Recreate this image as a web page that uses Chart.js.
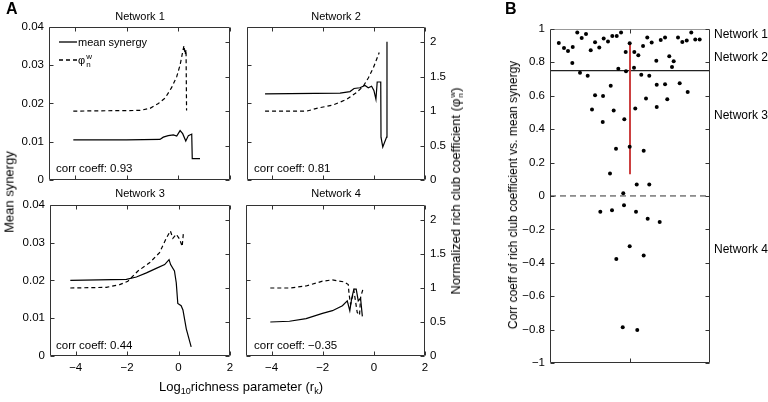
<!DOCTYPE html>
<html>
<head>
<meta charset="utf-8">
<script src="https://cdn.jsdelivr.net/npm/chart.js@4.4.0/dist/chart.umd.min.js"></script>
<style>
body { margin: 0; background: #fff; width: 768px; height: 402px; position: relative; overflow: hidden;
       font-family: "Liberation Sans", Arial, sans-serif; color: #000; }
canvas { position: absolute; }
.t { position: absolute; white-space: nowrap; line-height: 1; font-size: 11px; }
.c { transform: translate(-50%, -50%); }
.r { transform: translate(-50%, -50%) rotate(-90deg); }
.lbl { font-size: 13px; }
.big { font-size: 16px; font-weight: bold; }
.sw { display: inline-block; vertical-align: middle; font-size: 8px; line-height: 8px; margin-left: 1px; }
</style>
</head>
<body>
<canvas id="c1"></canvas>
<canvas id="c2"></canvas>
<canvas id="c3"></canvas>
<canvas id="c4"></canvas>
<canvas id="cb"></canvas>

<div class="t big" style="left:6px;top:1px">A</div>
<div class="t big" style="left:505px;top:1px">B</div>

<div class="t c" style="left:140px;top:16px">Network 1</div>
<div class="t c" style="left:336px;top:16px">Network 2</div>
<div class="t c" style="left:140px;top:193px">Network 3</div>
<div class="t c" style="left:336px;top:193px">Network 4</div>

<div class="t" style="left:56px;top:163px;font-size:11.5px">corr coeff: 0.93</div>
<div class="t" style="left:254px;top:163px;font-size:11.5px">corr coeff: 0.81</div>
<div class="t" style="left:56px;top:340px;font-size:11.5px">corr coeff: 0.44</div>
<div class="t" style="left:254px;top:340px;font-size:11.5px">corr coeff: &minus;0.35</div>

<svg style="position:absolute;left:58px;top:36px" width="20" height="30">
  <line x1="1" y1="6" x2="19" y2="6" stroke="#000" stroke-width="1.3"/>
  <line x1="1" y1="24" x2="19" y2="24" stroke="#000" stroke-width="1.3" stroke-dasharray="4,3"/>
</svg>
<div class="t" style="left:78px;top:37px">mean synergy</div>
<div class="t" style="left:78px;top:53px">&phi;<span class="sw">w<br>n</span></div>

<div class="t r lbl" style="left:9px;top:192px">Mean synergy</div>
<div class="t r lbl" style="left:457px;top:191px">Normalized rich club coefficient (&phi;<span class="sw">w<br>n</span>)</div>
<div class="t c lbl" style="left:241px;top:388px">Log<sub style="font-size:9px">10</sub>richness parameter (r<sub style="font-size:9px">k</sub>)</div>

<div class="t r" style="left:513px;top:195px;font-size:12px">Corr coeff of rich club coefficient vs. mean synergy</div>
<div class="t" style="left:714px;top:28px;font-size:12px">Network 1</div>
<div class="t" style="left:714px;top:51px;font-size:12px">Network 2</div>
<div class="t" style="left:714px;top:109px;font-size:12px">Network 3</div>
<div class="t" style="left:714px;top:243px;font-size:12px">Network 4</div>

<script>
// ---- panel A data (x = log10 richness parameter) ----
let xTicksA = [-4, -2, 0, 2];
let synTicks = [0, 0.01, 0.02, 0.03, 0.04];
let phiTicks = [0, 0.5, 1, 1.5, 2];
let phiMax = 0.04 / 0.018;

let net1SynX = [-4.06, -2.0, -0.71, -0.58, -0.39, -0.19, -0.06, 0.07, 0.17, 0.29, 0.39, 0.52, 0.54, 0.84];
let net1Syn  = [0.0105, 0.0105, 0.0106, 0.0112, 0.0116, 0.0118, 0.0115, 0.0129, 0.0121, 0.0102, 0.0116, 0.0120, 0.0056, 0.0056];
let net1PhiX = [-4.06, -1.48, -1.09, -0.77, -0.51, -0.26, -0.06, 0.07, 0.17, 0.22, 0.27, 0.30, 0.32];
let net1Phi  = [1.0, 1.01, 1.04, 1.11, 1.19, 1.34, 1.5, 1.67, 1.86, 1.95, 1.82, 1.89, 1.01];

let net2SynX = [-4.29, -1.34, -0.95, -0.79, -0.56, -0.36, -0.23, -0.10, -0.01, 0.07, 0.12, 0.26, 0.27, 0.34, 0.49, 0.505];
let net2Syn  = [0.0225, 0.0227, 0.0231, 0.0239, 0.0241, 0.0247, 0.0241, 0.0245, 0.0234, 0.0211, 0.0256, 0.0256, 0.0112, 0.0086, 0.0112, 0.0361];
let net2PhiX = [-4.29, -2.65, -2.26, -1.61, -1.08, -0.69, -0.43, -0.23, -0.03, 0.20];
let net2Phi  = [1.0, 1.0, 1.04, 1.09, 1.17, 1.27, 1.36, 1.48, 1.63, 1.85];

let net3SynX = [-4.21, -2.03, -1.64, -1.25, -0.87, -0.54, -0.37, -0.31, -0.16, -0.09, -0.03, 0.10, 0.17, 0.30, 0.49];
let net3Syn  = [0.0200, 0.0203, 0.0209, 0.0220, 0.0232, 0.0242, 0.0255, 0.0242, 0.0225, 0.0194, 0.0139, 0.0133, 0.0122, 0.0072, 0.0024];
let net3PhiX = [-4.21, -2.81, -2.29, -1.97, -1.58, -1.13, -0.74, -0.48, -0.32, -0.22, -0.09, 0.04, 0.14, 0.19];
let net3Phi  = [1.0, 1.01, 1.05, 1.10, 1.25, 1.37, 1.52, 1.73, 1.84, 1.73, 1.79, 1.72, 1.61, 1.82];

let net4SynX = [-4.05, -3.30, -2.65, -2.01, -1.62, -1.23, -1.04, -0.94, -0.87, -0.78, -0.69, -0.61, -0.52, -0.45];
let net4Syn  = [0.0090, 0.0092, 0.0099, 0.0113, 0.0120, 0.0133, 0.0146, 0.0120, 0.0151, 0.0177, 0.0177, 0.0146, 0.0153, 0.0105];
let net4PhiX = [-4.05, -3.30, -2.65, -2.01, -1.62, -1.17, -1.0, -0.97, -0.91, -0.78, -0.65, -0.56, -0.52, -0.43];
let net4Phi  = [1.0, 1.0, 1.03, 1.10, 1.12, 1.09, 1.05, 0.91, 0.76, 0.96, 0.64, 0.60, 0.86, 0.98];

// ---- panel B data ----
let bYTicks = [-1, -0.8, -0.6, -0.4, -0.2, 0, 0.2, 0.4, 0.6, 0.8, 1];
let bXTicks = [1];
let bX = [0.11, 0.175, 0.225, 0.284, 0.279, 0.341, 0.396, 0.45, 0.509, 0.563, 0.616, 0.671, 0.725, 0.779, 0.834, 0.888,
          0.854, 0.95, 0.996, 0.946, 1.05, 1.054, 1.104, 1.163, 1.216, 1.271, 1.329, 1.384, 1.438, 1.491, 1.546, 1.525,
          1.6, 1.654, 1.709, 1.766, 1.816, 1.871,
          0.375, 0.471, 1.141, 1.241, 0.759, 1.334, 1.438, 1.621, 0.563, 0.663, 1.721, 1.2, 1.466, 0.525, 0.796, 1.066,
          1.334, 0.659, 0.929, 0.825, 0.996, 1.171, 0.75, 1.084, 1.241, 0.916,
          0.629, 0.775, 0.925, 1.075, 1.221, 1.371, 0.996, 0.829, 1.171, 0.909, 1.091];
let bY = [0.916, 0.886, 0.868, 0.892, 0.796, 0.978, 0.946, 0.970, 0.872, 0.920, 0.888, 0.942, 0.924, 0.958, 0.958, 0.978,
          0.762, 0.747, 0.914, 0.862, 0.768, 0.862, 0.842, 0.898, 0.948, 0.918, 0.810, 0.934, 0.948, 0.837, 0.807, 0.772,
          0.948, 0.922, 0.930, 0.978, 0.936, 0.936,
          0.737, 0.719, 0.726, 0.719, 0.659, 0.666, 0.669, 0.675, 0.603, 0.599, 0.623, 0.583, 0.579, 0.517, 0.511, 0.523,
          0.533, 0.443, 0.459, 0.283, 0.295, 0.271, 0.134, 0.068, 0.068, 0.016,
          -0.094, -0.086, -0.056, -0.094, -0.136, -0.156, -0.301, -0.377, -0.357, -0.786, -0.802];
let redX = [1, 1];
let redY = [0.917, 0.13];
let splitX = [0, 2];
let split12 = [0.75, 0.75];
let split34 = [0, 0];

Chart.defaults.font.family = '"Liberation Sans", Arial, sans-serif';
Chart.defaults.font.size = 11.5;
Chart.defaults.color = '#000';

function pts(xs, ys) { return xs.map((x, i) => ({x: x, y: ys[i]})); }
function minus(v) { return String(v).replace('-', '\u2212'); }

// box with inward ticks, MATLAB style
const boxPlugin = {
  id: 'box',
  afterDatasetsDraw(chart, args, o) {
    const ctx = chart.ctx, a = chart.chartArea;
    const L = Math.round(a.left) + 0.5, R = Math.round(a.right) - 0.5;
    const T = Math.round(a.top) + 0.5, B = Math.round(a.bottom) - 0.5;
    ctx.save();
    ctx.lineWidth = 1;
    ctx.strokeStyle = '#333';
    ctx.beginPath();
    ctx.moveTo(L, T); ctx.lineTo(L, B); ctx.lineTo(R, B); ctx.lineTo(R, T);
    ctx.stroke();
    ctx.strokeStyle = o.topColor || '#333';
    ctx.beginPath(); ctx.moveTo(L, T); ctx.lineTo(R, T); ctx.stroke();
    ctx.strokeStyle = '#333';
    const tk = 4;
    Object.values(chart.scales).forEach(s => {
      s.ticks.forEach(t => {
        const p = Math.round(s.getPixelForValue(t.value)) + 0.5;
        ctx.beginPath();
        if (s.isHorizontal()) {
          ctx.moveTo(p, B); ctx.lineTo(p, B - tk);
          ctx.moveTo(p, T); ctx.lineTo(p, T + tk);
        } else {
          if (s.position === 'left' || o.mirror) { ctx.moveTo(L, p); ctx.lineTo(L + tk, p); }
          if (s.position === 'right' || o.mirror) { ctx.moveTo(R, p); ctx.lineTo(R - tk, p); }
        }
        ctx.stroke();
      });
    });
    ctx.restore();
  }
};

function axis(pos, min, max, ticks, size, show) {
  return {
    type: 'linear', position: pos, min: min, max: max, bounds: 'data',
    grid: {display: false, drawTicks: false}, border: {display: false},
    ticks: {display: show, padding: 5, autoSkip: false, maxRotation: 0, callback: minus},
    afterBuildTicks: s => { s.ticks = ticks.map(v => ({value: v})); },
    afterFit: s => { if (s.isHorizontal()) s.height = size; else s.width = size; }
  };
}

function place(id, p, pad) {
  const c = document.getElementById(id);
  c.width = p.w + pad.l + pad.r;
  c.height = p.h + pad.t + pad.b;
  c.style.left = (p.x - pad.l) + 'px';
  c.style.top = (p.y - pad.t) + 'px';
  return c;
}

const padA = {l: 45, r: 30, t: 10, b: 22};
const panels = [
  {id: 'c1', p: {x: 49, y: 25, w: 181, h: 155}, sx: net1SynX, sy: net1Syn, px: net1PhiX, py: net1Phi, left: true, right: false, bottom: false},
  {id: 'c2', p: {x: 247, y: 25, w: 178, h: 155}, sx: net2SynX, sy: net2Syn, px: net2PhiX, py: net2Phi, left: false, right: true, bottom: false},
  {id: 'c3', p: {x: 50, y: 203, w: 180, h: 153}, sx: net3SynX, sy: net3Syn, px: net3PhiX, py: net3Phi, left: true, right: false, bottom: true},
  {id: 'c4', p: {x: 246, y: 203, w: 179, h: 153}, sx: net4SynX, sy: net4Syn, px: net4PhiX, py: net4Phi, left: false, right: true, bottom: true}
];

panels.forEach(q => {
  const c = place(q.id, q.p, padA);
  new Chart(c, {
    type: 'line',
    data: {
      datasets: [
        {data: pts(q.sx, q.sy), yAxisID: 'y', borderColor: '#000', borderWidth: 1.2, pointRadius: 0, tension: 0},
        {data: pts(q.px, q.py), yAxisID: 'y2', borderColor: '#000', borderWidth: 1.2, borderDash: [4, 3], pointRadius: 0, tension: 0}
      ]
    },
    options: {
      responsive: false, animation: false, devicePixelRatio: 1,
      layout: {padding: {top: padA.t, left: 0, right: 0, bottom: 0}},
      plugins: {legend: {display: false}, tooltip: {enabled: false}},
      scales: {
        x: axis('bottom', -5, 2, xTicksA, padA.b, q.bottom),
        y: axis('left', 0, 0.04, synTicks, padA.l, q.left),
        y2: axis('right', 0, phiMax, phiTicks, padA.r, q.right)
      }
    },
    plugins: [boxPlugin]
  });
});

const padB = {l: 45, r: 8, t: 10, b: 12};
const cb = place('cb', {x: 550, y: 27, w: 160, h: 336}, padB);
new Chart(cb, {
  type: 'scatter',
  data: {
    datasets: [
      {data: pts(bX, bY), pointRadius: 2, pointBackgroundColor: '#000', pointBorderWidth: 0, showLine: false},
      {type: 'line', data: pts(redX, redY), borderColor: '#cc4040', borderWidth: 2, pointRadius: 0},
      {type: 'line', data: pts(splitX, split12), borderColor: '#222', borderWidth: 1.2, pointRadius: 0},
      {type: 'line', data: pts(splitX, split34), borderColor: '#333', borderWidth: 1, borderDash: [6, 4], pointRadius: 0}
    ]
  },
  options: {
    responsive: false, animation: false, devicePixelRatio: 1,
    layout: {padding: {top: padB.t, left: 0, right: padB.r, bottom: 0}},
    plugins: {legend: {display: false}, tooltip: {enabled: false}, box: {mirror: true, topColor: '#999'}},
    scales: {
      x: axis('bottom', 0, 2, bXTicks, padB.b, false),
      y: axis('left', -1, 1, bYTicks, padB.l, true)
    }
  },
  plugins: [boxPlugin]
});
</script>
</body>
</html>
